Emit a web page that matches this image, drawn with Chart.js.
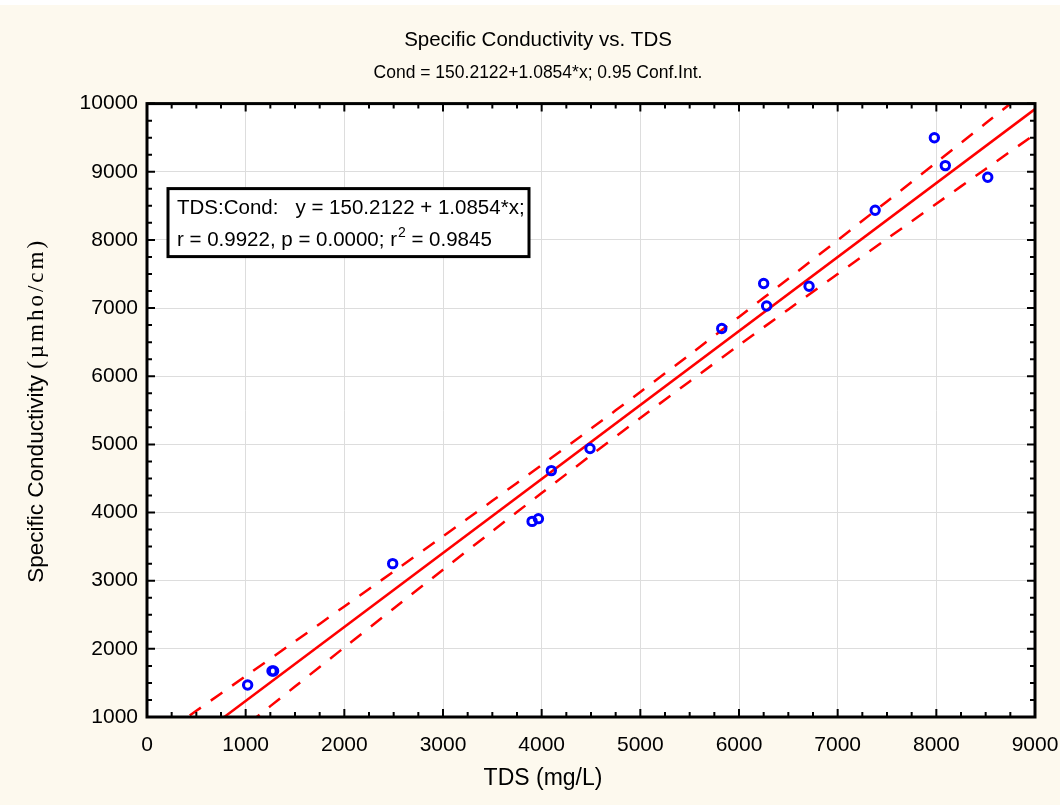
<!DOCTYPE html>
<html>
<head>
<meta charset="utf-8">
<script src="https://cdn.jsdelivr.net/npm/chart.js@4.4.1/dist/chart.umd.min.js"></script>
<style>
body{margin:0;background:#fff;}
#wrap{width:1060px;height:805px;}
</style>
</head>
<body>
<div id="wrap"><canvas id="grafico" width="1060" height="805"></canvas></div>
<script>
// -------- DADOS --------

const tds  = [1020, 1267, 1283, 2490, 3903, 3967, 4098, 4490, 5825, 6250, 6280, 6710, 7380, 7980, 8091, 8521];
const cond = [1470, 1675, 1675, 3250, 3870, 3910, 4615, 4940, 6700, 7360, 7030, 7320, 8435, 9500, 9090, 8920];

// reta de regressão (Cond = 150.2122 + 1.0854*x)
const retaX = [0, 9000];
const retaY = [150, 9919];

// intervalo de confiança 0.95
const faixaX   = [0, 500, 1000, 1500, 2000, 2500, 3000, 3500, 4000, 4500, 5000, 5500, 6000, 6500, 7000, 7500, 8000, 8500, 9000];
const superior = [583, 1091, 1600, 2110, 2622, 3135, 3652, 4172, 4698, 5230, 5769, 6316, 6870, 7431, 7996, 8565, 9137, 9711, 10287];
const inferior = [-282, 295, 872, 1447, 2021, 2592, 3161, 3726, 4286, 4840, 5386, 5924, 6455, 6980, 7500, 8016, 8530, 9041, 9551];

const xTicks = [0, 1000, 2000, 3000, 4000, 5000, 6000, 7000, 8000, 9000];
const yTicks = [1000, 2000, 3000, 4000, 5000, 6000, 7000, 8000, 9000, 10000];

const fonte = "'Liberation Sans', Arial, sans-serif";
const serif = "'Liberation Serif', 'Times New Roman', serif";

const pares = (xs, ys) => xs.map((x, i) => ({x: x, y: ys[i]}));

// -------- PLUGIN: fundo, moldura, marcas, textos --------

const moldura = {
  id: "moldura",
  beforeDraw(chart) {
    const c = chart.ctx, a = chart.chartArea;
    c.save();
    c.fillStyle = "#fdf9ee";
    c.fillRect(0, 5, chart.width, chart.height - 5);
    c.fillStyle = "#ffffff";
    c.fillRect(a.left, a.top, a.right - a.left, a.bottom - a.top);
    c.restore();
  },
  afterDraw(chart) {
    const c = chart.ctx, a = chart.chartArea;
    const sx = chart.scales.x, sy = chart.scales.y;
    c.save();

    // marcas para dentro nos quatro lados
    c.strokeStyle = "#000";
    c.lineWidth = 2;
    c.beginPath();
    for (let v = 0; v <= 9000; v += 250) {
      const px = sx.getPixelForValue(v);
      const t = v % 1000 === 0 ? 8 : 5;
      c.moveTo(px, a.bottom); c.lineTo(px, a.bottom - t);
      c.moveTo(px, a.top); c.lineTo(px, a.top + t);
    }
    for (let v = 1000; v <= 10000; v += 250) {
      const py = sy.getPixelForValue(v);
      const t = v % 1000 === 0 ? 8 : 5;
      c.moveTo(a.left, py); c.lineTo(a.left + t, py);
      c.moveTo(a.right, py); c.lineTo(a.right - t, py);
    }
    c.stroke();

    c.lineWidth = 3;
    c.strokeRect(a.left, a.top, a.right - a.left, a.bottom - a.top);

    c.fillStyle = "#000";
    c.textBaseline = "middle";

    // título do eixo x
    c.textAlign = "center";
    c.font = "23px " + fonte;
    c.fillText("TDS (mg/L)", 543, 779);
    c.textAlign = "left";

    // título do eixo y (parte serifada)
    const p1 = "Specific Conductivity ";
    const p2 = "(\u00b5mho/cm)";
    c.translate(37, (a.top + a.bottom) / 2);
    c.rotate(-Math.PI / 2);
    c.font = "22.5px " + fonte;
    const w1 = c.measureText(p1).width;
    c.font = "23px " + serif;
    c.letterSpacing = "3px";
    const w2 = c.measureText(p2).width;
    const x0 = -(w1 + w2) / 2;
    c.fillText(p2, x0 + w1, 0);
    c.letterSpacing = "0px";
    c.font = "22.5px " + fonte;
    c.fillText(p1, x0, 0);
    c.setTransform(1, 0, 0, 1, 0, 0);

    // caixa de texto da regressão
    const bx = a.left + 21, by = a.top + 85;
    c.fillStyle = "#fff";
    c.fillRect(bx, by, 361, 68);
    c.lineWidth = 3;
    c.strokeRect(bx, by, 361, 68);
    c.fillStyle = "#000";
    c.font = "20.5px " + fonte;
    c.fillText("TDS:Cond:   y = 150.2122 + 1.0854*x;", bx + 9, by + 20);
    const t1 = "r = 0.9922, p = 0.0000; r";
    c.fillText(t1, bx + 9, by + 52);
    let wx = bx + 9 + c.measureText(t1).width;
    c.font = "14px " + fonte;
    c.fillText("2", wx + 1, by + 45);
    wx += c.measureText("2").width + 1;
    c.font = "20.5px " + fonte;
    c.fillText(" = 0.9845", wx, by + 52);
    c.restore();
  }
};

// -------- GRÁFICO --------

new Chart(document.getElementById("grafico"), {
  type: "scatter",
  data: {
    datasets: [
      {
        label: "Pontos",
        data: pares(tds, cond),
        pointStyle: "circle",
        pointRadius: 4.2,
        pointBorderWidth: 3,
        pointBorderColor: "#0000ff",
        pointBackgroundColor: "rgba(0,0,0,0)",
        showLine: false
      },
      {
        label: "Reta",
        data: pares(retaX, retaY),
        showLine: true,
        pointRadius: 0,
        borderColor: "#ff0000",
        borderWidth: 2.5
      },
      {
        label: "Superior",
        data: pares(faixaX, superior),
        showLine: true,
        pointRadius: 0,
        borderColor: "#ff0000",
        borderWidth: 2.5,
        borderDash: [14, 12],
        tension: 0.3
      },
      {
        label: "Inferior",
        data: pares(faixaX, inferior),
        showLine: true,
        pointRadius: 0,
        borderColor: "#ff0000",
        borderWidth: 2.5,
        borderDash: [14, 12],
        tension: 0.3
      }
    ]
  },
  options: {
    responsive: false,
    animation: false,
    layout: {
      padding: {left: 41, right: 25, top: 0, bottom: 0}
    },
    plugins: {
      legend: {display: false},
      tooltip: {enabled: false},
      title: {
        display: true,
        text: "Specific Conductivity vs. TDS",
        color: "#000",
        font: {family: fonte, size: 20.5, weight: "normal"},
        padding: {top: 28, bottom: 0}
      },
      subtitle: {
        display: true,
        text: "Cond = 150.2122+1.0854*x; 0.95 Conf.Int.",
        color: "#000",
        font: {family: fonte, size: 17.5},
        padding: {top: 10, bottom: 20}
      }
    },
    scales: {
      x: {
        type: "linear",
        min: 0,
        max: 9000,
        afterBuildTicks: s => { s.ticks = xTicks.map(v => ({value: v})); },
        afterFit: s => { s.height = 88; s.paddingLeft = 0; s.paddingRight = 0; },
        ticks: {color: "#000", font: {family: fonte, size: 21}, padding: 16, maxRotation: 0, callback: v => String(v)},
        grid: {color: "#dddddd", lineWidth: 1, drawTicks: false},
        border: {display: false}
      },
      y: {
        type: "linear",
        min: 1000,
        max: 10000,
        afterBuildTicks: s => { s.ticks = yTicks.map(v => ({value: v})); },
        afterFit: s => { s.width = 106; s.paddingTop = 0; s.paddingBottom = 0; },
        ticks: {color: "#000", font: {family: fonte, size: 21}, padding: 9, callback: v => String(v)},
        grid: {color: "#dddddd", lineWidth: 1, drawTicks: false},
        border: {display: false}
      }
    }
  },
  plugins: [moldura]
});
</script>
</body>
</html>
